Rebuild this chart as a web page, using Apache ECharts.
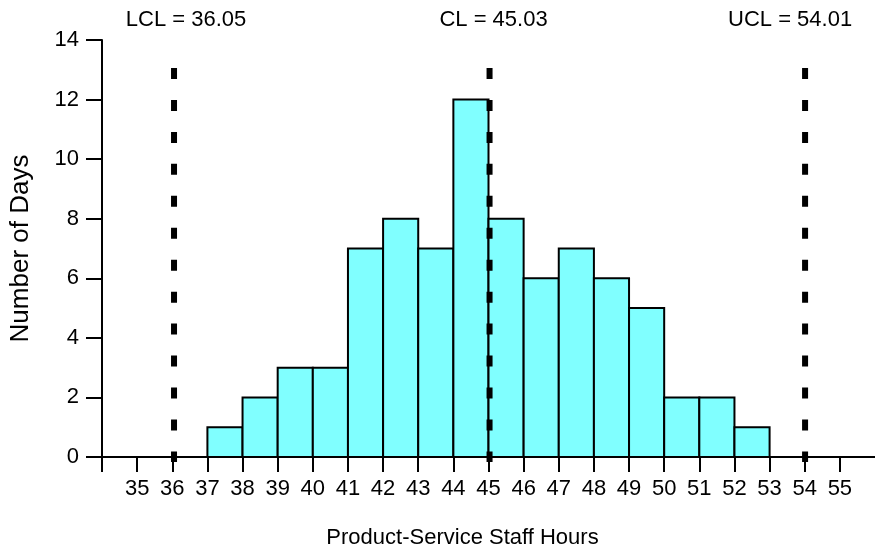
<!DOCTYPE html>
<html>
<head>
<meta charset="utf-8">
<script src="https://cdn.jsdelivr.net/npm/echarts@6/dist/echarts.min.js"></script>
<style>html,body{margin:0;padding:0;background:#fff;}#c{width:875px;height:554px;}</style>
</head>
<body>
<div id="c"></div>
<script>
// Histogram bins (lower edge, upper edge) and counts
const binStarts = [37, 38, 39, 40, 41, 42, 43, 44, 45, 46, 47, 48, 49, 50, 51, 52];
const binEnds   = [38, 39, 40, 41, 42, 43, 44, 45, 46, 47, 48, 49, 50, 51, 52, 53];
const counts    = [1, 2, 3, 3, 7, 8, 7, 12, 8, 6, 7, 6, 5, 2, 2, 1];
// Control limits
const limitNames  = ['LCL', 'CL', 'UCL'];
const limitValues = [36.05, 45.03, 54.01];
// Axis ticks
const xTickValues  = [34,35,36,37,38,39,40,41,42,43,44,45,46,47,48,49,50,51,52,53,54,55];
const xLabelValues = [35,36,37,38,39,40,41,42,43,44,45,46,47,48,49,50,51,52,53,54,55];

const FONT = 'Liberation Sans, Arial, sans-serif';
const chart = echarts.init(document.getElementById('c'), null, {renderer: 'canvas'});

const barData = binStarts.map((s, i) => [s, binEnds[i], counts[i]]);
const limitData = limitValues.map((v, i) => [v, i]);
const labelShift = [12, 4, -15];   // label horizontal nudge (px)
const LINE_BOTTOM = -0.17, LINE_TOP = 13.06;

chart.setOption({
  animation: false,
  backgroundColor: '#fff',
  grid: {left: 101, right: 0, top: 40, bottom: 96, containLabel: false},
  xAxis: {
    type: 'value', min: 34, max: 56, interval: 1,
    name: 'Product-Service Staff Hours', nameLocation: 'middle', nameGap: 70,
    nameTextStyle: {fontSize: 22, fontFamily: FONT, color: '#000', padding: [0, 52, 0, 0]},
    axisLine: {show: true, onZero: false, lineStyle: {color: '#000', width: 2}},
    axisTick: {show: true, length: 15, inside: false, customValues: xTickValues, lineStyle: {color: '#000', width: 2}},
    axisLabel: {show: true, margin: 21, fontSize: 22, fontFamily: FONT, color: '#000', customValues: xLabelValues},
    splitLine: {show: false}
  },
  yAxis: {
    type: 'value', min: 0, max: 14, interval: 2,
    name: 'Number of Days', nameLocation: 'middle', nameGap: 68,
    nameTextStyle: {fontSize: 26, fontFamily: FONT, color: '#000'},
    axisLine: {show: true, lineStyle: {color: '#000', width: 2}},
    axisTick: {show: true, length: 16, inside: false, lineStyle: {color: '#000', width: 2}},
    axisLabel: {show: true, margin: 23, fontSize: 22, fontFamily: FONT, color: '#000'},
    splitLine: {show: false}
  },
  series: [
    {
      type: 'custom',
      data: barData,
      encode: {x: [0, 1], y: 2},
      renderItem: function (params, api) {
        const p0 = api.coord([api.value(0), api.value(2)]);
        const p1 = api.coord([api.value(1), 0]);
        return {
          type: 'rect',
          shape: {x: p0[0], y: p0[1], width: p1[0] - p0[0], height: p1[1] - p0[1]},
          style: {fill: '#80FFFF', stroke: '#000', lineWidth: 2}
        };
      },
      z: 2
    },
    {
      type: 'custom',
      data: limitData,
      encode: {x: 0},
      clip: false,
      renderItem: function (params, api) {
        const v = api.value(0);
        const i = api.value(1);
        const pb = api.coord([v, LINE_BOTTOM]);
        const pt = api.coord([v, LINE_TOP]);
        return {
          type: 'group',
          children: [
            {
              type: 'line',
              shape: {x1: pt[0], y1: pt[1], x2: pb[0], y2: pb[1]},
              style: {stroke: '#000', lineWidth: 6, lineDash: [11, 20.95]}
            },
            {
              type: 'text',
              x: pt[0] + labelShift[i], y: pt[1] - 48,
              style: {
                text: limitNames[i] + ' = ' + v.toFixed(2),
                fill: '#000', fontSize: 22, fontFamily: FONT,
                align: 'center', verticalAlign: 'middle'
              }
            }
          ]
        };
      },
      z: 5
    }
  ]
});
</script>
</body>
</html>
